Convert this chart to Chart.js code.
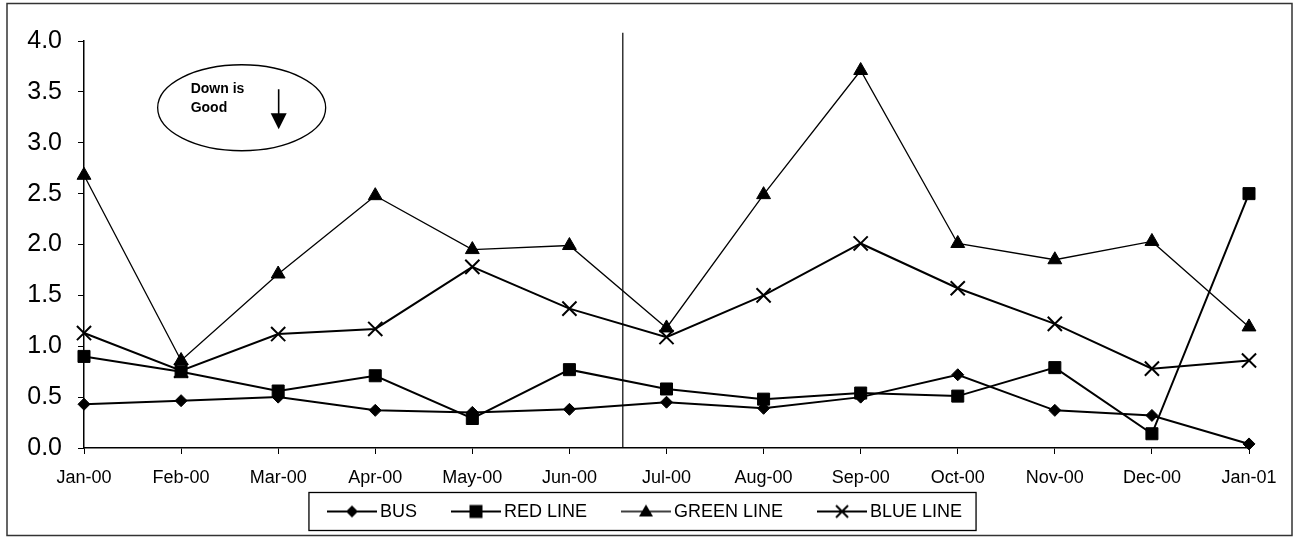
<!DOCTYPE html>
<html>
<head>
<meta charset="utf-8">
<script src="https://cdn.jsdelivr.net/npm/chart.js@4.4.1/dist/chart.umd.min.js"></script>
<style>
html,body{margin:0;padding:0;background:#fff;}
canvas{display:block;}
</style>
</head>
<body>
<canvas id="c" width="1294" height="537"></canvas>
<script>
// ---- data ----
const categories = ['Jan-00','Feb-00','Mar-00','Apr-00','May-00','Jun-00','Jul-00','Aug-00','Sep-00','Oct-00','Nov-00','Dec-00','Jan-01'];
const busValues   = [0.43, 0.465, 0.50, 0.37, 0.35, 0.38, 0.45, 0.39, 0.50, 0.72, 0.37, 0.32, 0.04];
const redValues   = [0.90, 0.75, 0.56, 0.71, 0.29, 0.77, 0.58, 0.48, 0.54, 0.51, 0.79, 0.14, 2.50];
const greenValues = [2.68, 0.86, 1.71, 2.48, 1.95, 1.99, 1.18, 2.49, 3.71, 2.01, 1.85, 2.03, 1.19];
const blueValues  = [1.13, 0.76, 1.12, 1.17, 1.78, 1.37, 1.09, 1.50, 2.01, 1.57, 1.22, 0.78, 0.86];
const seriesNames = ['BUS', 'RED LINE', 'GREEN LINE', 'BLUE LINE'];
const yTickValues = [0, 0.5, 1, 1.5, 2, 2.5, 3, 3.5, 4];
const noteLines = ['Down is', 'Good'];

const FONT = "'Liberation Sans', Arial, sans-serif";

function symbolCanvas(style, lw) {
  const c = document.createElement('canvas');
  c.width = 50; c.height = 18;
  const g = c.getContext('2d');
  g.strokeStyle = '#000'; g.fillStyle = '#000';
  g.lineWidth = lw;
  g.beginPath(); g.moveTo(0, 9); g.lineTo(50, 9); g.stroke();
  const cx = 25, cy = 9;
  g.beginPath();
  if (style === 'rectRot') {
    g.moveTo(cx - 6, cy); g.lineTo(cx, cy - 6); g.lineTo(cx + 6, cy); g.lineTo(cx, cy + 6); g.closePath(); g.fill();
  } else if (style === 'rect') {
    g.fillRect(cx - 6.5, cy - 6.5, 13, 13);
  } else if (style === 'triangle') {
    g.moveTo(cx, cy - 7); g.lineTo(cx + 7, cy + 5); g.lineTo(cx - 7, cy + 5); g.closePath(); g.fill();
  } else if (style === 'crossRot') {
    g.lineWidth = 2;
    g.moveTo(cx - 6, cy - 6); g.lineTo(cx + 6, cy + 6);
    g.moveTo(cx + 6, cy - 6); g.lineTo(cx - 6, cy + 6); g.stroke();
  }
  return c;
}

function mkSet(label, data, style, radius, lw) {
  return {
    label, data,
    borderColor: '#000', backgroundColor: '#000',
    borderWidth: lw, tension: 0,
    pointStyle: style, pointRadius: radius, pointHoverRadius: radius,
    pointBackgroundColor: '#000', pointBorderColor: '#000',
    pointBorderWidth: style === 'crossRot' ? 2 : 1,
    clip: false,
    legendSymbol: symbolCanvas(style, lw)
  };
}

const decor = {
  id: 'decor',
  beforeDatasetsDraw(chart) {
    const {ctx, chartArea, scales: {x, y}} = chart;
    const vx = x.getPixelForValue(5.55);
    ctx.save();
    ctx.strokeStyle = '#000'; ctx.lineWidth = 1.2;
    ctx.beginPath(); ctx.moveTo(vx, y.getPixelForValue(4.08)); ctx.lineTo(vx, chartArea.bottom); ctx.stroke();
    ctx.restore();
  },
  afterDraw(chart) {
    const {ctx, chartArea, scales: {x, y}} = chart;
    ctx.save();
    // outer frame
    ctx.strokeStyle = '#333'; ctx.lineWidth = 1.5;
    ctx.strokeRect(7, 3.5, 1285, 532);
    // ellipse note
    const cx = x.getPixelForValue(1.624), cy = y.getPixelForValue(3.344);
    ctx.strokeStyle = '#000'; ctx.lineWidth = 1.3;
    ctx.beginPath(); ctx.ellipse(cx, cy, 84, 43, 0, 0, Math.PI * 2); ctx.stroke();
    ctx.fillStyle = '#000';
    ctx.font = 'bold 14px ' + FONT;
    ctx.textAlign = 'left'; ctx.textBaseline = 'alphabetic';
    ctx.fillText(noteLines[0], cx - 51, cy - 15);
    ctx.fillText(noteLines[1], cx - 51, cy + 4);
    // arrow
    const ax = cx + 37;
    ctx.lineWidth = 1.6;
    ctx.beginPath(); ctx.moveTo(ax, cy - 18.5); ctx.lineTo(ax, cy + 8); ctx.stroke();
    ctx.beginPath(); ctx.moveTo(ax - 8, cy + 5.5); ctx.lineTo(ax + 8, cy + 5.5); ctx.lineTo(ax, cy + 21.5); ctx.closePath(); ctx.fill();
    // legend
    const items = chart.data.datasets.map(ds => ({ text: ds.label, sym: ds.legendSymbol }));
    ctx.font = '18px ' + FONT;
    ctx.textBaseline = 'middle';
    const widths = items.map(it => ctx.measureText(it.text).width);
    const symW = 50, gapT = 3, gapI = 34;
    const total = items.length * (symW + gapT) + widths.reduce((a, b) => a + b, 0) + (items.length - 1) * gapI;
    const center = (chartArea.left + chartArea.right) / 2 - 22;
    const ly = chartArea.bottom + 63.5;
    let xx = center - total / 2;
    const start = xx;
    items.forEach((it, i) => {
      ctx.drawImage(it.sym, xx, ly - 9);
      xx += symW + gapT;
      ctx.fillText(it.text, xx, ly + 1);
      xx += widths[i] + gapI;
    });
    const end = xx - gapI;
    ctx.strokeStyle = '#000'; ctx.lineWidth = 1.3;
    ctx.strokeRect(start - 18, ly - 19, (end + 14) - (start - 18), 38);
    ctx.restore();
  }
};

new Chart(document.getElementById('c'), {
  type: 'line',
  data: {
    labels: categories,
    datasets: [
      mkSet(seriesNames[0], busValues, 'rectRot', 6, 2),
      mkSet(seriesNames[1], redValues, 'rect', 8.5, 2),
      mkSet(seriesNames[2], greenValues, 'triangle', 8, 1.3),
      mkSet(seriesNames[3], blueValues, 'crossRot', 10, 2)
    ]
  },
  options: {
    responsive: false,
    animation: false,
    events: [],
    layout: { padding: { left: 10, right: 45, top: 41, bottom: 49 } },
    scales: {
      x: {
        type: 'category', offset: false,
        ticks: { font: { family: FONT, size: 18 }, color: '#000', padding: 13, maxRotation: 0, autoSkip: false },
        grid: { drawOnChartArea: false, drawTicks: true, tickLength: 6, color: '#000', lineWidth: 1 },
        border: { display: true, color: '#000', width: 1.5 },
        afterFit(s) { s.height = 40; }
      },
      y: {
        min: 0, max: 4,
        afterBuildTicks(s) { s.ticks = yTickValues.map(v => ({ value: v })); },
        ticks: { font: { family: FONT, size: 25 }, color: '#000', padding: 16, callback: v => Number(v).toFixed(1) },
        grid: { drawOnChartArea: false, drawTicks: true, tickLength: 6, color: '#000', lineWidth: 1 },
        border: { display: true, color: '#000', width: 1.5 },
        afterFit(s) { s.width = 74; }
      }
    },
    plugins: {
      tooltip: { enabled: false },
      legend: { display: false }
    }
  },
  plugins: [decor]
});
</script>
</body>
</html>
